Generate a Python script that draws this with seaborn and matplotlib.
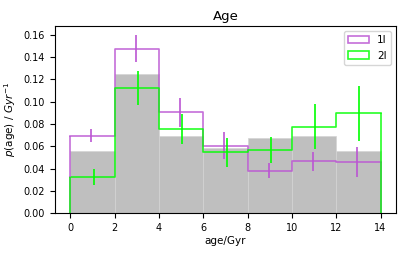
import numpy as np
import pandas as pd
import seaborn as sns
from matplotlib import pyplot as plt
from matplotlib.patches import Patch

# bins (Gyr)
bin_edges = [0, 2, 4, 6, 8, 10, 12, 14]
bin_centers = [1, 3, 5, 7, 9, 11, 13]

# reference distribution (grey)
p_ref = [0.0553, 0.1247, 0.0690, 0.0580, 0.0673, 0.0688, 0.0559]

# sample 1l
p_1l = [0.0694, 0.1477, 0.0906, 0.0604, 0.0380, 0.0463, 0.0457]
err_1l = [0.0060, 0.0123, 0.0129, 0.0123, 0.0069, 0.0082, 0.0135]

# sample 2l
p_2l = [0.0323, 0.1124, 0.0757, 0.0547, 0.0565, 0.0777, 0.0894]
err_2l = [0.0073, 0.0150, 0.0135, 0.0130, 0.0120, 0.0199, 0.0247]

labels = ['1l', '2l']
colors = ['#bb55d3', '#00ff00']

df = pd.DataFrame({
    'age': bin_centers,
    'ref': p_ref,
    '1l': p_1l,
    '2l': p_2l,
})

plt.rcParams['font.size'] = 7
fig = plt.figure(figsize=(4.07, 2.57), dpi=100)
ax = fig.add_axes([0.135, 0.171, 0.838, 0.728])

sns.histplot(data=df, x='age', weights='ref', bins=bin_edges, stat='count',
             element='bars', fill=True, color='#bfbfbf', edgecolor='#d4d4d4',
             linewidth=0.5, alpha=1, ax=ax)

for lab, col, vals, errs, dx in [(labels[0], colors[0], p_1l, err_1l, -0.05),
                                 (labels[1], colors[1], p_2l, err_2l, 0.05)]:
    sns.histplot(data=df, x='age', weights=lab, bins=bin_edges, stat='count',
                 element='step', fill=False, color=col, linewidth=1.2,
                 alpha=0.85, ax=ax)
    ax.errorbar(np.array(bin_centers) + dx, vals, yerr=errs, fmt='none',
                ecolor=col, elinewidth=1.2, capsize=0)

# close the step outlines at the outer edges
for col, vals in zip(colors, [p_1l, p_2l]):
    ax.vlines([bin_edges[0], bin_edges[-1]], 0, [vals[0], vals[-1]],
              colors=col, linewidth=1.2, alpha=0.85)

ax.set_xlim(-0.7, 14.7)
ax.set_ylim(0, 0.168)
ax.set_xticks(range(0, 15, 2))
ax.set_yticks(np.arange(0, 0.161, 0.02))
ax.set_yticklabels([f'{v:.2f}' for v in np.arange(0, 0.161, 0.02)])
ax.set_xlabel('age/Gyr', fontsize=7.5, labelpad=2)
ax.set_ylabel(r'$p$(age) / $Gyr^{-1}$', fontsize=7.5)
ax.set_title('Age', fontsize=9.5, pad=4)

handles = [Patch(facecolor='none', edgecolor=c, linewidth=1.2, alpha=0.85) for c in colors]
ax.legend(handles, labels, loc='upper right', fontsize=7.5)

fig.savefig('out.png', dpi=100)
